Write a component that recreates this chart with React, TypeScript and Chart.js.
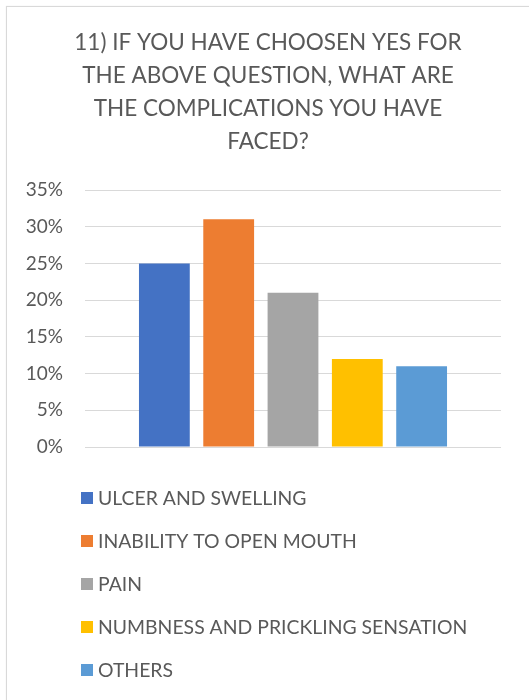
import React, { useEffect, useRef } from "react";
import { Chart, registerables } from "chart.js";

Chart.register(...registerables);

const CATEGORIES = [""];
const SERIES_LABELS = [
  "ULCER AND SWELLING",
  "INABILITY TO OPEN MOUTH",
  "PAIN",
  "NUMBNESS AND PRICKLING SENSATION",
  "OTHERS",
];
const SERIES_VALUES = [25, 31, 21, 12, 11];
const SERIES_COLORS = ["#4472C4", "#ED7D31", "#A5A5A5", "#FFC000", "#5B9BD5"];
const Y_MIN = 0;
const Y_MAX = 35;
const Y_STEP = 5;
const TITLE_LINES = [
  "11) IF YOU HAVE CHOOSEN YES FOR",
  "THE ABOVE QUESTION, WHAT ARE",
  "THE COMPLICATIONS YOU HAVE",
  "FACED?",
];

const FONT = "Lato, 'Noto Sans', sans-serif";
const TEXT_COLOR = "#595959";

const listLegend = {
  id: "listLegend",
  afterDraw(chart: any, _args: any, opts: any) {
    const ctx = chart.ctx;
    ctx.save();
    ctx.font = `${opts.size}px ${FONT}`;
    ctx.textBaseline = "middle";
    ctx.textAlign = "left";
    chart.data.datasets.forEach((ds: any, i: number) => {
      const y = opts.top + i * opts.step;
      ctx.fillStyle = ds.backgroundColor;
      ctx.fillRect(opts.boxLeft, Math.round(y - opts.box / 2), opts.box, opts.box);
      ctx.fillStyle = opts.color;
      ctx.fillText(ds.label, opts.textLeft, y + 1);
    });
    ctx.restore();
  },
};

// let the y tick labels extend to the left of the (narrowed) axis box
const unclipYLabels = {
  id: "unclipYLabels",
  afterLayout(chart: any) {
    const y = chart.scales.y;
    if (y) y.left = 0;
  },
};

export default function App() {
  const canvasRef = useRef<HTMLCanvasElement | null>(null);

  useEffect(() => {
    if (!canvasRef.current) return;
    const chart = new Chart(canvasRef.current, {
      type: "bar",
      data: {
        labels: CATEGORIES,
        datasets: SERIES_LABELS.map((label, i) => ({
          label,
          data: [SERIES_VALUES[i]],
          backgroundColor: SERIES_COLORS[i],
          borderWidth: 0,
          categoryPercentage: 0.773,
          barPercentage: 0.79,
        })),
      },
      options: {
        responsive: false,
        maintainAspectRatio: false,
        animation: false,
        devicePixelRatio: 1,
        layout: { padding: { left: 35, right: 28, top: 0, bottom: 253 } },
        plugins: {
          legend: { display: false },
          tooltip: { enabled: false },
          title: {
            display: true,
            text: TITLE_LINES,
            color: TEXT_COLOR,
            font: { family: FONT, size: 22.5, weight: "normal", lineHeight: 33 / 22.5 },
            padding: { top: 26.5, bottom: 31.5 },
          },
          listLegend: {
            top: 498,
            step: 43,
            box: 12,
            boxLeft: 81,
            textLeft: 98,
            size: 19.4,
            color: TEXT_COLOR,
          },
        } as any,
        scales: {
          x: {
            display: false,
          },
          y: {
            min: Y_MIN,
            max: Y_MAX,
            border: { display: false },
            grid: { color: "#d9d9d9", lineWidth: 1, drawTicks: false },
            ticks: {
              stepSize: Y_STEP,
              padding: 22,
              color: TEXT_COLOR,
              font: { family: FONT, size: 19 },
              callback: (v: any) => `${v}%`,
            },
            afterFit: (scale: any) => {
              scale.width = 50;
            },
          },
        },
      },
      plugins: [listLegend, unclipYLabels],
    });
    return () => chart.destroy();
  }, []);

  return (
    <div style={{ position: "fixed", left: 0, top: 0, width: 529, height: 700, overflow: "hidden", background: "#fff" }}>
      <div
        style={{
          position: "absolute",
          left: 6,
          top: 6,
          width: 600,
          height: 800,
          border: "1px solid #d9d9d9",
          boxShadow: "0 0 1px #e6e6e6",
        }}
      />
      <canvas ref={canvasRef} width={529} height={700} style={{ position: "absolute", left: 0, top: 0 }} />
    </div>
  );
}
